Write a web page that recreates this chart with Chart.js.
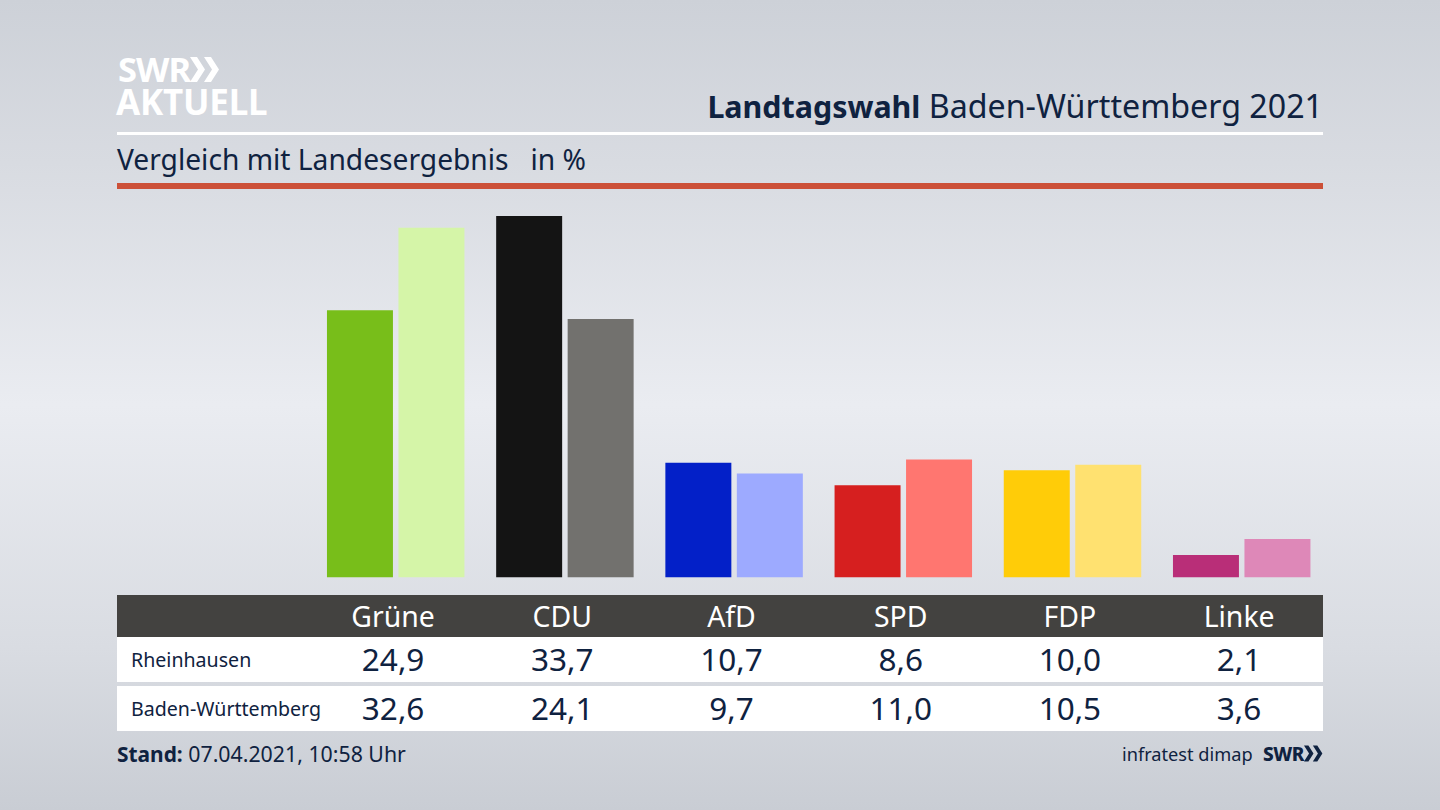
<!DOCTYPE html>
<html lang="de"><head><meta charset="utf-8">
<script src="https://cdn.jsdelivr.net/npm/chart.js@4/dist/chart.umd.js"></script>
<style>
html,body{margin:0;padding:0;width:1440px;height:810px;overflow:hidden}
body{position:relative;font-family:"Noto Sans",sans-serif;color:#0f2240;
background:linear-gradient(180deg,#cdd1d8 0%,#d8dbe1 20%,#eaecf1 50%,#d9dce2 80%,#c9cdd4 100%)}
canvas{position:absolute;left:0;top:0}
.a{position:absolute;white-space:nowrap}
.rule{position:absolute;left:117px;width:1206px}
.head{position:absolute;left:117px;width:1206px;top:595px;height:42px;background:#434240}
.row{position:absolute;left:117px;width:1206px;background:#fff}
.cell{position:absolute;transform:translateX(-50%);white-space:nowrap}
.rowlabel{position:absolute;left:14px;font-size:19.6px;color:#0f2240}
</style></head><body>
<div class="a" id="logo1" style="left:118px;top:48px;font-size:34.5px;font-weight:700;color:#fff;line-height:42px;letter-spacing:-.9px">SWR</div>
<svg class="a" style="left:190px;top:57px" width="30" height="25" viewBox="0 0 30 25"><path d="M0 0h7l8 12.5-8 12.5H0l8-12.5zM14 0h7l8 12.5-8 12.5h-7l8-12.5z" fill="#fff"/></svg>
<div class="a" id="logo2" style="left:116px;top:81px;font-size:35px;font-weight:700;color:#fff;line-height:42px;letter-spacing:-.2px">AKTUELL</div>
<div class="a" style="right:117px;top:85px;font-size:32.2px;line-height:42px"><b style="font-size:30.4px">Landtagswahl</b> Baden-Württemberg 2021</div>
<div class="rule" style="top:132px;height:3px;background:#fff"></div>
<div class="a" style="left:117px;top:139px;font-size:28.2px;line-height:40px">Vergleich mit Landesergebnis&nbsp;&nbsp; in %</div>
<div class="rule" style="top:183px;height:6px;background:#cc5038"></div>
<div class="head" id="head"></div>
<div class="row" id="r0" style="top:637px;height:45px"></div>
<div class="row" id="r1" style="top:686px;height:45px"></div>
<div class="a" style="left:117px;top:738px;font-size:21.3px;line-height:32px"><b style="font-size:20.9px">Stand:</b> 07.04.2021, 10:58 Uhr</div>
<div class="a" style="left:1122px;top:739px;font-size:18.2px;line-height:30px">infratest dimap</div>
<div class="a" style="left:1263px;top:739px;font-size:19px;font-weight:800;line-height:30px;letter-spacing:-.5px">SWR</div>
<svg class="a" style="left:1304px;top:745px" width="19" height="17" viewBox="0 0 30 25"><path d="M0 0h7l8 12.5-8 12.5H0l8-12.5zM14 0h7l8 12.5-8 12.5h-7l8-12.5z" fill="#0f2240"/></svg>
<canvas id="c" width="1440" height="810"></canvas>
<script>
const categories = ["Grüne","CDU","AfD","SPD","FDP","Linke"];
const seriesNames = ["Rheinhausen","Baden-Württemberg"];
const rheinhausen = [24.9,33.7,10.7,8.6,10.0,2.1];
const badenWuerttemberg = [32.6,24.1,9.7,11.0,10.5,3.6];
const colorsLocal = ["#78be1a","#141414","#0320c8","#d61f1f","#ffcc08","#b92e78"];
const colorsState = ["#d5f5a8","#72716e","#9daaff","#ff7670","#ffe170","#de88b8"];
const fmt = v => v.toFixed(1).replace(".",",");
const chart = new Chart(document.getElementById("c"),{
  type:"bar",
  data:{labels:categories,datasets:[
    {label:seriesNames[0],data:rheinhausen,backgroundColor:colorsLocal,borderWidth:0},
    {label:seriesNames[1],data:badenWuerttemberg,backgroundColor:colorsState,borderWidth:0}
  ]},
  options:{responsive:false,animation:false,devicePixelRatio:1,
    layout:{padding:{left:311.1,right:113.7,top:202,bottom:232.5}},
    datasets:{bar:{categoryPercentage:0.845,barPercentage:0.923}},
    plugins:{legend:{display:false},tooltip:{enabled:false},title:{display:false}},
    scales:{
      x:{display:false,grid:{display:false}},
      y:{display:false,min:0,max:35,grid:{display:false}}
    }}
});
const xs = categories.map((_,i)=>chart.scales.x.getPixelForValue(i)-2.6);
function addCell(parent,text,x,top,size,color){
  const d=document.createElement("div");d.className="cell";d.textContent=text;
  d.style.left=(x-parent.offsetLeft)+"px";d.style.top=top+"px";d.style.fontSize=size+"px";
  d.style.color=color;d.style.lineHeight="42px";parent.appendChild(d);
}
const head=document.getElementById("head");
categories.forEach((c,i)=>addCell(head,c,xs[i],0,28.4,"#fff"));
[[rheinhausen,"r0"],[badenWuerttemberg,"r1"]].forEach(([vals,id],r)=>{
  const row=document.getElementById(id);
  const l=document.createElement("div");l.className="rowlabel";l.textContent=seriesNames[r];
  l.style.top="0";l.style.lineHeight="45px";row.appendChild(l);
  vals.forEach((v,i)=>addCell(row,fmt(v),xs[i],1,31.5,"#0f2240"));
});
</script>
</body></html>
